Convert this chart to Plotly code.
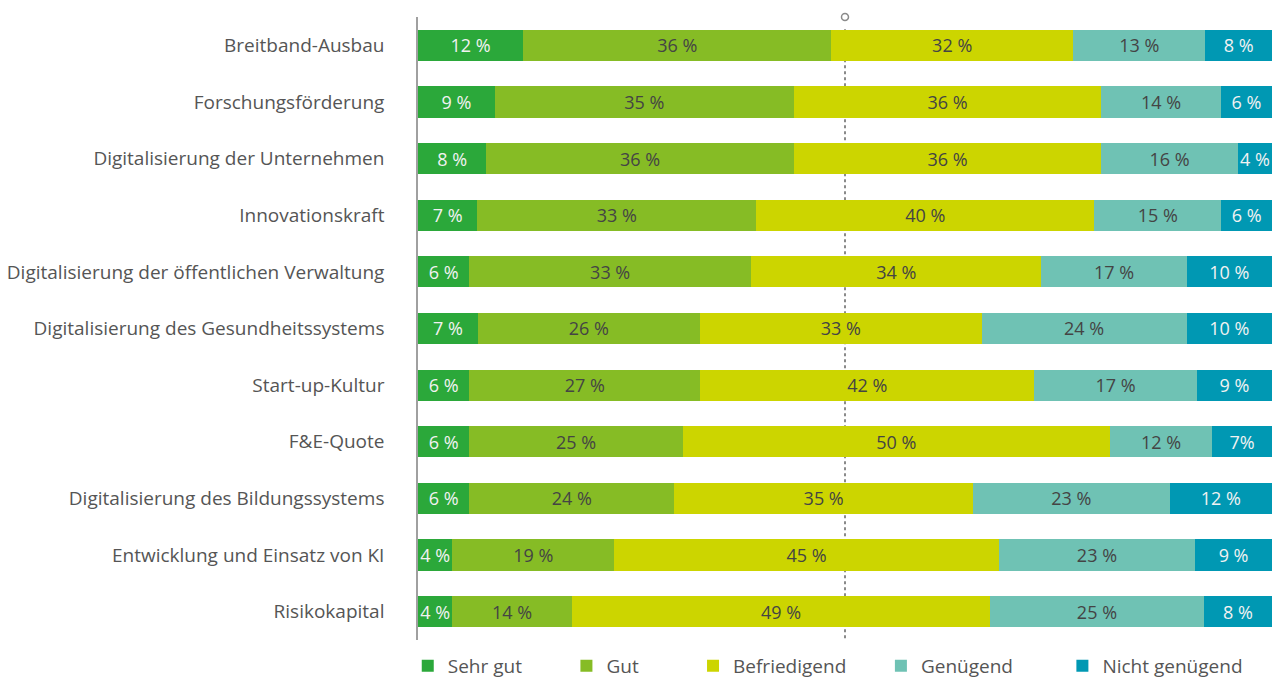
import plotly.graph_objects as go

categories = [
    "Breitband-Ausbau",
    "Forschungsförderung",
    "Digitalisierung der Unternehmen",
    "Innovationskraft",
    "Digitalisierung der öffentlichen Verwaltung",
    "Digitalisierung des Gesundheitssystems",
    "Start-up-Kultur",
    "F&E-Quote",
    "Digitalisierung des Bildungssystems",
    "Entwicklung und Einsatz von KI",
    "Risikokapital",
]

series_names = ["Sehr gut", "Gut", "Befriedigend", "Genügend", "Nicht genügend"]

# bar shares as drawn in the picture
sehr_gut = [12.3, 9, 8, 7, 6, 7, 6, 6, 6, 4, 4]
gut = [36.1, 35, 36, 33, 33, 26, 27, 25, 24, 19, 14]
befriedigend = [28.3, 36, 36, 40, 34, 33, 39.1, 50, 35, 45, 49]
genuegend = [15.5, 14, 16, 15, 17, 24, 19, 12, 23, 23, 25]
nicht_genuegend = [7.8, 6, 4, 6, 10, 10, 8.8, 7, 12, 9, 8]

# printed labels
sehr_gut_lbl = ["12 %", "9 %", "8 %", "7 %", "6 %", "7 %", "6 %", "6 %", "6 %", "4 %", "4 %"]
gut_lbl = ["36 %", "35 %", "36 %", "33 %", "33 %", "26 %", "27 %", "25 %", "24 %", "19 %", "14 %"]
befriedigend_lbl = ["32 %", "36 %", "36 %", "40 %", "34 %", "33 %", "42 %", "50 %", "35 %", "45 %", "49 %"]
genuegend_lbl = ["13 %", "14 %", "16 %", "15 %", "17 %", "24 %", "17 %", "12 %", "23 %", "23 %", "25 %"]
nicht_genuegend_lbl = ["8 %", "6 %", "4 %", "6 %", "10 %", "10 %", "9 %", "7%", "12 %", "9 %", "8 %"]

colors = ["#2BA83A", "#86BC25", "#CCD500", "#6FC2B4", "#0098B3"]
text_colors = ["#F2F2F2", "#444444", "#444444", "#444444", "#F2F2F2"]

values = [sehr_gut, gut, befriedigend, genuegend, nicht_genuegend]
labels = [sehr_gut_lbl, gut_lbl, befriedigend_lbl, genuegend_lbl, nicht_genuegend_lbl]

FONT = "Open Sans"
legend_pad = [8, 10, 6, 9, 0]  # spacing after each legend entry (nbsp count)

fig = go.Figure()
for name, vals, lbls, col, tcol, pad in zip(series_names, values, labels, colors, text_colors, legend_pad):
    fig.add_trace(go.Bar(
        name=name + "\u00a0" * pad,
        y=categories,
        x=vals,
        orientation="h",
        marker=dict(color=col, line=dict(width=0)),
        text=lbls,
        textposition="inside",
        insidetextanchor="middle",
        textfont=dict(family=FONT, size=18, color=tcol),
        hoverinfo="skip",
    ))

# dotted reference line at 50 % with small circle at the top
fig.add_shape(type="line", xref="x", yref="paper", x0=50, x1=50, y0=0.003, y1=0.985,
              line=dict(color="#8a8a8a", width=2, dash="dot"), layer="below")
fig.add_shape(type="circle", xref="x", yref="paper", xsizemode="pixel", ysizemode="pixel",
              xanchor=50, yanchor=1.0, x0=-3.5, x1=3.5, y0=-3.5, y1=3.5,
              line=dict(color="#8a8a8a", width=1.5), fillcolor="white", layer="above")

fig.update_layout(
    barmode="stack",
    barnorm="percent",
    bargap=0.45,
    width=1272,
    height=700,
    margin=dict(l=418, r=0, t=17, b=60),
    paper_bgcolor="white",
    plot_bgcolor="white",
    font=dict(family=FONT, color="#555555", size=19),
    uniformtext=dict(minsize=18, mode="show"),
    showlegend=True,
    legend=dict(
        orientation="h",
        x=-0.012, xanchor="left",
        y=-0.011, yanchor="top",
        font=dict(family=FONT, size=19, color="#555555"),
        traceorder="normal",
        itemwidth=30,
        tracegroupgap=0,
    ),
    xaxis=dict(range=[0, 100], visible=False, fixedrange=True),
    yaxis=dict(
        autorange="reversed",
        showline=True, linecolor="#a0a0a0", linewidth=1.5,
        showgrid=False, zeroline=False,
        ticks="", ticklabelstandoff=28,
        tickfont=dict(family=FONT, size=19, color="#555555"),
    ),
)

fig.write_html(
    "out.html",
    config={"displayModeBar": False},
    post_script="document.body.style.margin='0';document.body.style.overflow='hidden';",
)
